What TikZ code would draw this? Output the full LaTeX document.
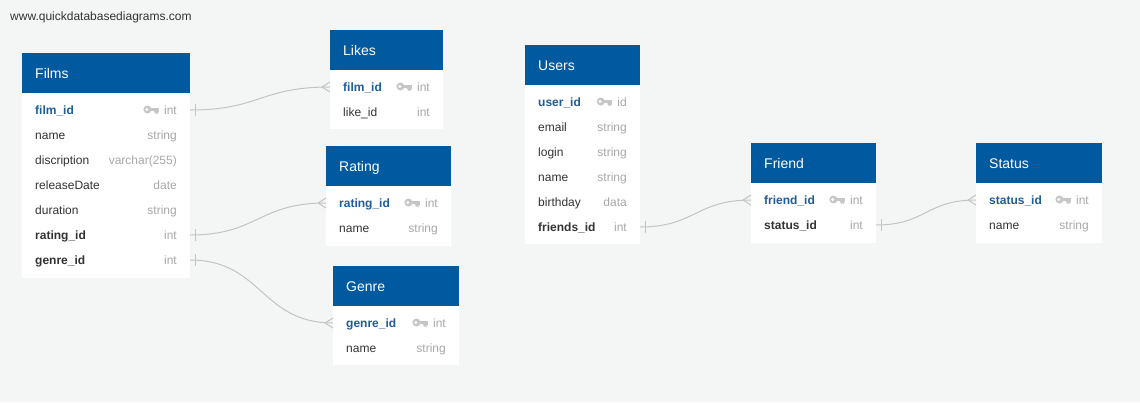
\documentclass[tikz,border=0pt]{standalone}
\usepackage{fontspec}
\setmainfont{Liberation Sans}
\usetikzlibrary{calc}
\definecolor{bgc}{HTML}{F4F5F5}
\definecolor{hdrc}{HTML}{01599F}
\definecolor{keyblue}{HTML}{1F5C99}
\definecolor{txtc}{HTML}{333333}
\definecolor{typc}{HTML}{A8A8A8}
\definecolor{keyc}{HTML}{C6C6C6}
\definecolor{linec}{HTML}{C4C4C4}
\tikzset{
  hdr/.style={fill=hdrc, inner sep=0, outer sep=0, anchor=north west},
  bod/.style={fill=white, inner sep=0, outer sep=0, anchor=north west},
  ttl/.style={text=white, font=\fontsize{14}{16}\selectfont, inner sep=0, anchor=base west},
  keyf/.style={text=keyblue, font=\fontsize{12}{14}\selectfont\bfseries, inner sep=0, anchor=base west},
  fkf/.style={text=txtc, font=\fontsize{12}{14}\selectfont\bfseries, inner sep=0, anchor=base west},
  fld/.style={text=txtc, font=\fontsize{12}{14}\selectfont, inner sep=0, anchor=base west},
  typ/.style={text=typc, font=\fontsize{12}{14}\selectfont, inner sep=0, anchor=base east},
  conn/.style={draw=linec, line width=1pt},
  keyic/.pic={
    \fill[keyc] (-11.5,0) circle (4pt);
    \fill[white] (-12.2,0) circle (1.6pt);
    \fill[keyc] (-8.5,-1.8) rectangle (0,1.6);
    \fill[keyc] (-5,1.6) -- (0,1.6) -- (-1,4) -- (-4,4) -- cycle;
  }
}
\newcommand\erdtbl[6]{%
  \node[hdr, minimum width={#3-#2}, minimum height=40] (#1H) at (#2,#4) {};
  \node[bod, minimum width={#3-#2}, minimum height={#5-#4-40}] (#1B) at (#2,#4+40) {};
  \node[ttl] (#1Ti) at (#2+13,#4+25) {#6};
}
\newcommand\erdrow[7]{%
  \node[#5] (#1F) at (#2+13,#4+4.3) {#6};
  \node[typ] (#1T) at (#3-13,#4+4.3) {#7};
}
\newcommand\erdkey[1]{\pic at ($(#1T.west)+(-5,-0.5)$) {keyic};}
\begin{document}
\begin{tikzpicture}[x=1pt,y=-1pt]
\fill[bgc] (0,0) rectangle (1140,402);
\useasboundingbox (0,0) rectangle (1140,402);

\node[anchor=base west, font=\fontsize{12}{14}\selectfont, text=txtc, inner sep=0] (wm) at (10,20) {www.quickdatabasediagrams.com};

% Films
\erdtbl{films}{22}{190}{53}{278}{Films}
\erdrow{filmsA}{22}{190}{110}{keyf}{film\_id}{int}
\erdkey{filmsA}
\erdrow{filmsB}{22}{190}{135}{fld}{name}{string}
\erdrow{filmsC}{22}{190}{160}{fld}{discription}{varchar(255)}
\erdrow{filmsD}{22}{190}{185}{fld}{releaseDate}{date}
\erdrow{filmsE}{22}{190}{210}{fld}{duration}{string}
\erdrow{filmsF}{22}{190}{235}{fkf}{rating\_id}{int}
\erdrow{filmsG}{22}{190}{260}{fkf}{genre\_id}{int}

% Likes
\erdtbl{likes}{330}{443}{30}{129}{Likes}
\erdrow{likesA}{330}{443}{87}{keyf}{film\_id}{int}
\erdkey{likesA}
\erdrow{likesB}{330}{443}{112}{fld}{like\_id}{int}

% Rating
\erdtbl{rating}{326}{451}{146}{246}{Rating}
\erdrow{ratingA}{326}{451}{203}{keyf}{rating\_id}{int}
\erdkey{ratingA}
\erdrow{ratingB}{326}{451}{228}{fld}{name}{string}

% Genre
\erdtbl{genre}{333}{459}{266}{365}{Genre}
\erdrow{genreA}{333}{459}{323}{keyf}{genre\_id}{int}
\erdkey{genreA}
\erdrow{genreB}{333}{459}{348}{fld}{name}{string}

% Users
\erdtbl{users}{525}{640}{45}{244}{Users}
\erdrow{usersA}{525}{640}{102}{keyf}{user\_id}{id}
\erdkey{usersA}
\erdrow{usersB}{525}{640}{127}{fld}{email}{string}
\erdrow{usersC}{525}{640}{152}{fld}{login}{string}
\erdrow{usersD}{525}{640}{177}{fld}{name}{string}
\erdrow{usersE}{525}{640}{202}{fld}{birthday}{data}
\erdrow{usersF}{525}{640}{227}{fkf}{friends\_id}{int}

% Friend
\erdtbl{friend}{751}{876}{143}{243}{Friend}
\erdrow{friendA}{751}{876}{200}{keyf}{friend\_id}{int}
\erdkey{friendA}
\erdrow{friendB}{751}{876}{225}{fkf}{status\_id}{int}

% Status
\erdtbl{status}{976}{1102}{143}{243}{Status}
\erdrow{statusA}{976}{1102}{200}{keyf}{status\_id}{int}
\erdkey{statusA}
\erdrow{statusB}{976}{1102}{225}{fld}{name}{string}

% connector end points
\coordinate (p1) at (190,110);  \coordinate (q1) at (330,87);
\coordinate (p2) at (190,235);  \coordinate (q2) at (326,203);
\coordinate (p3) at (190,260);  \coordinate (q3) at (333,323);
\coordinate (p4) at (640,227);  \coordinate (q4) at (751,200);
\coordinate (p5) at (876,225);  \coordinate (q5) at (976,200);

\foreach \i/\d in {1/70,2/68,3/72,4/55,5/50}{
  \draw[conn] (p\i) .. controls +(\d,0) and +(-\d,0) .. (q\i);
  \draw[conn] ($(p\i)+(5,-6)$) -- ($(p\i)+(5,6)$);
  \draw[conn] ($(q\i)+(-8,0)$) -- ($(q\i)+(0,-5)$);
  \draw[conn] ($(q\i)+(-8,0)$) -- ($(q\i)+(0,5)$);
}
\end{tikzpicture}
\end{document}
